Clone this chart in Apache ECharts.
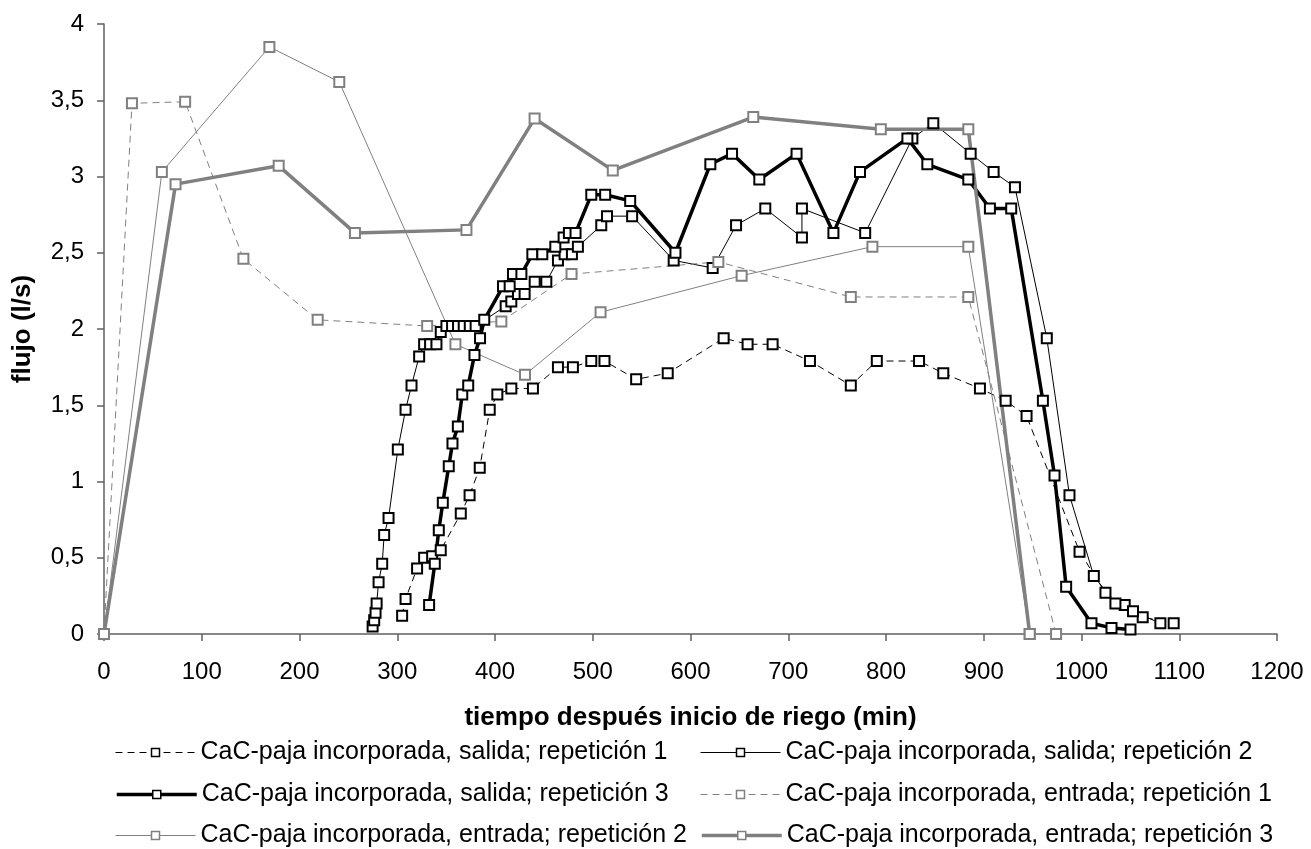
<!DOCTYPE html>
<html>
<head>
<meta charset="utf-8">
<title>Flujo</title>
<script src="https://cdn.jsdelivr.net/npm/echarts@6/dist/echarts.min.js"></script>
<style>
  html, body { margin: 0; padding: 0; background: #ffffff; }
  #chart { width: 1311px; height: 849px; }
</style>
</head>
<body>
<div id="chart"></div>
<script>
// flujo (l/s) against time since irrigation start (min): [tiempo, flujo]
const salidaRep1 = [
  [305, 0.12], [308.5, 0.23], [320.3, 0.43], [327.5, 0.50], [335.7, 0.51], [344.5, 0.55],
  [365, 0.79], [374, 0.91], [384.4, 1.09], [394.6, 1.47], [402.4, 1.57], [416.7, 1.61],
  [438.8, 1.61], [464.4, 1.75], [479.7, 1.75], [498.5, 1.79], [512, 1.79], [544.4, 1.67],
  [576.7, 1.71], [633.9, 1.94], [658.4, 1.90], [684, 1.90], [722.2, 1.79], [764, 1.63],
  [790.6, 1.79], [833.8, 1.79], [858.6, 1.71], [896.1, 1.61], [922.4, 1.53], [943.8, 1.43],
  [998, 0.54], [1024.5, 0.27], [1044.2, 0.19], [1062.6, 0.11], [1094.3, 0.07]
];
const salidaRep2 = [
  [274.8, 0.05], [276.4, 0.09], [277.8, 0.14], [278.9, 0.20], [280.9, 0.34], [284.6, 0.46],
  [286.6, 0.65], [291.1, 0.76], [300.6, 1.21], [308.5, 1.47], [314.6, 1.63], [322.4, 1.82],
  [327.5, 1.90], [333.6, 1.90], [340.1, 1.90], [344.5, 1.98], [350.3, 2.02], [356.1, 2.02],
  [362.2, 2.02], [368, 2.02], [374.2, 2.02], [380.2, 2.02], [410.9, 2.15], [416.7, 2.18],
  [423.5, 2.23], [430.3, 2.23], [440.6, 2.31], [452.5, 2.31], [464.4, 2.45], [471.2, 2.49],
  [478.7, 2.49], [484.8, 2.54], [508.7, 2.68], [514.6, 2.74], [540.3, 2.74], [582.8, 2.45],
  [622.7, 2.40], [646.6, 2.68], [676.5, 2.79], [714, 2.60], [714, 2.79], [778.7, 2.63],
  [827, 3.25], [848.4, 3.35], [886.6, 3.15], [910.1, 3.03], [931.9, 2.93], [964.5, 1.94],
  [987.7, 0.91], [1012.6, 0.38], [1034.7, 0.20], [1052.7, 0.15], [1080.7, 0.07]
];
const salidaRep3 = [
  [332.6, 0.19], [338.4, 0.46], [342.5, 0.68], [346.6, 0.86], [352.7, 1.10], [356.5, 1.25],
  [362, 1.36], [366.5, 1.57], [372.6, 1.63], [379, 1.83], [384.7, 1.94], [389, 2.06],
  [408.2, 2.28], [415, 2.28], [418.4, 2.36], [427, 2.36], [438.2, 2.49], [448.4, 2.49],
  [461.7, 2.54], [470.2, 2.60], [475.6, 2.63], [482.4, 2.63], [498.5, 2.88], [512.7, 2.88],
  [538.3, 2.84], [584.6, 2.50], [620.3, 3.08], [642.5, 3.15], [670.4, 2.98], [708.5, 3.15],
  [746.2, 2.63], [773.4, 3.03], [821.9, 3.25], [842.3, 3.08], [884.2, 2.98], [906.3, 2.79],
  [928.1, 2.79], [960.5, 1.53], [972.4, 1.04], [984.3, 0.31], [1010.2, 0.07], [1030.7, 0.04],
  [1050.1, 0.03]
];
const entradaRep1 = [
  [0, 0], [28.6, 3.48], [83, 3.49], [142.6, 2.46], [218.6, 2.06], [330.6, 2.02],
  [406.5, 2.05], [478.3, 2.36], [628.5, 2.44], [764, 2.21], [884.2, 2.21], [974, 0]
];
const entradaRep2 = [
  [0, 0], [59.2, 3.03], [169.2, 3.85], [240.7, 3.62], [359.5, 1.90], [430.7, 1.70],
  [508, 2.11], [652.3, 2.35], [786.1, 2.54], [884.2, 2.54], [947, 0]
];
const entradaRep3 = [
  [0, 0], [73.2, 2.95], [178.7, 3.07], [256.7, 2.63], [370.8, 2.65], [440.5, 3.38],
  [520.5, 3.04], [664.2, 3.39], [794.7, 3.31], [884.2, 3.31], [947, 0]
];

const seriesNames = [
  'CaC-paja incorporada, salida; repetición 1',
  'CaC-paja incorporada, salida; repetición 2',
  'CaC-paja incorporada, salida; repetición 3',
  'CaC-paja incorporada, entrada; repetición 1',
  'CaC-paja incorporada, entrada; repetición 2',
  'CaC-paja incorporada, entrada; repetición 3'
];
const seriesData = [salidaRep1, salidaRep2, salidaRep3, entradaRep1, entradaRep2, entradaRep3];

const FONT = '"Liberation Sans", Arial, Helvetica, sans-serif';
const BLACK = '#000000';
const GRAY = '#808080';
const AXIS = '#606060';

// line look per series: colour, width, dashed or not
const looks = [
  { color: BLACK, width: 1, dash: [7, 5] },
  { color: BLACK, width: 1, dash: 'solid' },
  { color: BLACK, width: 3.5, dash: 'solid' },
  { color: GRAY, width: 1, dash: [7, 5] },
  { color: GRAY, width: 1, dash: 'solid' },
  { color: GRAY, width: 3.5, dash: 'solid' }
];

const series = seriesData.map((d, i) => ({
  name: seriesNames[i],
  type: 'line',
  data: d,
  symbol: 'rect',
  symbolSize: 10,
  showAllSymbol: true,
  animation: false,
  lineStyle: { color: looks[i].color, width: looks[i].width, type: looks[i].dash },
  itemStyle: { color: '#ffffff', borderColor: looks[i].color, borderWidth: 2 },
  emphasis: { disabled: true }
}));

// two-column legend below the x axis title, one entry per legend box
const legendCols = [115, 700];
const legendRows = [740, 782, 823];
const legends = seriesNames.map((n, i) => ({
  data: [n],
  left: legendCols[i % 2],
  top: legendRows[Math.floor(i / 2)],
  itemWidth: 80,
  itemHeight: 10,
  padding: 0,
  itemGap: 0,
  selectedMode: false,
  lineStyle: { color: looks[i].color, width: looks[i].width, type: looks[i].dash },
  itemStyle: { color: '#ffffff', borderColor: looks[i].color, borderWidth: 1.5 },
  textStyle: { fontFamily: FONT, fontSize: 25, color: BLACK }
}));

const chart = echarts.init(document.getElementById('chart'), null, { renderer: 'canvas' });
chart.setOption({
  backgroundColor: '#ffffff',
  animation: false,
  grid: { left: 104, top: 24, right: 34, bottom: 215 },
  legend: legends,
  xAxis: {
    type: 'value',
    min: 0, max: 1200, interval: 100,
    name: 'tiempo después inicio de riego (min)',
    nameLocation: 'middle',
    nameGap: 71,
    nameTextStyle: { fontFamily: FONT, fontSize: 26, fontWeight: 'bold', color: BLACK },
    axisLine: { lineStyle: { color: AXIS, width: 1.5 } },
    axisTick: { show: true, length: 7, inside: false, lineStyle: { color: AXIS, width: 1.5 } },
    axisLabel: {
      fontFamily: FONT, fontSize: 24, color: BLACK, margin: 26,
      formatter: v => String(v)
    },
    splitLine: { show: false }
  },
  yAxis: {
    type: 'value',
    min: 0, max: 4, interval: 0.5,
    name: 'flujo (l/s)',
    nameLocation: 'middle',
    nameRotate: 90,
    nameGap: 68,
    nameTextStyle: { fontFamily: FONT, fontSize: 26, fontWeight: 'bold', color: BLACK },
    axisLine: { show: true, lineStyle: { color: AXIS, width: 1.5 } },
    axisTick: { show: true, length: 7, inside: false, lineStyle: { color: AXIS, width: 1.5 } },
    axisLabel: {
      fontFamily: FONT, fontSize: 24, color: BLACK, margin: 20,
      formatter: v => String(v).replace('.', ',')
    },
    splitLine: { show: false }
  },
  series: series
});
</script>
</body>
</html>
